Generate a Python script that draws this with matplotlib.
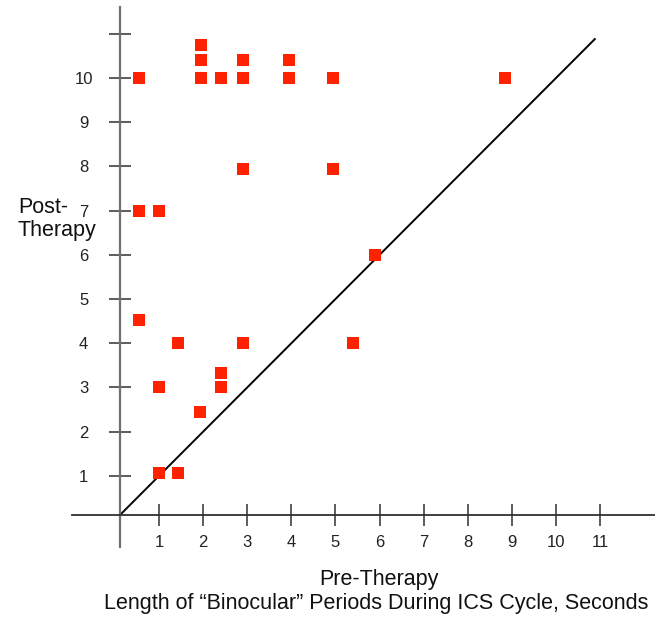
import matplotlib
matplotlib.use("Agg")
import matplotlib.pyplot as plt

plt.rcParams['font.family'] = ['Liberation Sans', 'DejaVu Sans']

# Pre- vs post-therapy binocular period lengths (seconds)
pre_therapy = [0.55, 1.95, 1.95, 1.95, 2.4, 2.9, 2.9, 3.95, 3.95, 4.95, 8.85,
               2.9, 4.95, 0.55, 1.0, 5.9, 0.55, 1.42, 2.9, 5.4, 2.4, 2.4, 1.0,
               1.93, 1.0, 1.42]
post_therapy = [10.0, 10.75, 10.4, 10.0, 10.0, 10.4, 10.0, 10.4, 10.0, 10.0, 10.0,
                7.93, 7.93, 7.0, 7.0, 6.0, 4.52, 4.0, 4.0, 4.0, 3.33, 3.0, 3.0,
                2.45, 1.06, 1.06]

x_ticks = list(range(1, 12))
x_tick_labels = [str(v) for v in x_ticks]
y_ticks = list(range(1, 12))
y_tick_labels = [str(v) for v in range(1, 11)] + [""]

W, H = 655, 618
fig = plt.figure(figsize=(W / 100, H / 100), dpi=100)
ax = fig.add_axes([72 / W, (H - 547) / H, (655 - 72) / W, (547 - 7) / H])
ax.set_xlim(-0.975, 12.245)
ax.set_ylim(-0.611, 11.606)

origin = 0.11
for side in ("top", "right"):
    ax.spines[side].set_visible(False)
ax.spines["left"].set_position(("data", origin))
ax.spines["bottom"].set_position(("data", origin))
ax.spines["left"].set_color("#707070")
ax.spines["left"].set_linewidth(1.6)
ax.spines["bottom"].set_color("#303030")
ax.spines["bottom"].set_linewidth(1.3)

ax.set_xticks(x_ticks)
ax.set_xticklabels(x_tick_labels)
ax.set_yticks(y_ticks)
ax.set_yticklabels(y_tick_labels)
ax.tick_params(axis="x", direction="inout", length=16, width=1.1, color="#303030",
               labelsize=12, pad=6, labelcolor="#222222")
ax.tick_params(axis="y", direction="inout", length=16, width=1.1, color="#303030",
               labelsize=12, pad=18, labelcolor="#222222")
for lab in ax.get_yticklabels():
    lab.set_horizontalalignment("center")

# line of equality
ax.plot([origin, 10.88], [origin, 10.88], color="black", lw=1.4, zorder=2)

ax.scatter(pre_therapy, post_therapy, marker="s", s=8 ** 2, color="#ff2200",
           linewidths=0, zorder=3)

# y-axis title, two lines set separately
fig.text(18 / W, 1 - 213 / H, "Post-", fontsize=15.5, ha="left",
         va="baseline", color="#111111")
fig.text(18 / W, 1 - 236 / H, "Therapy", fontsize=15.5, ha="left",
         va="baseline", color="#111111")
fig.text(379 / W, 1 - 580 / H, "Pre-Therapy", fontsize=15.5, ha="center",
         va="center", color="#111111")
fig.text(376 / W, 1 - 604 / H,
         "Length of \u201cBinocular\u201d Periods During ICS Cycle, Seconds",
         fontsize=15.5, ha="center", va="center", color="#111111")

fig.savefig("out.png", dpi=100)
